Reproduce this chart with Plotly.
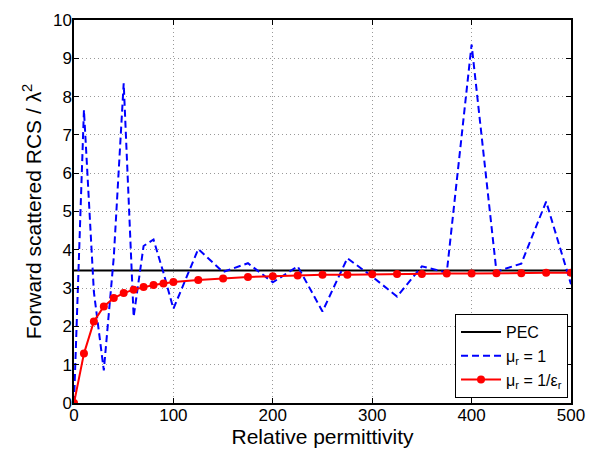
import plotly.graph_objects as go

# relative permittivity samples
eps_r = [0, 10, 20, 30, 40, 50, 60, 70, 80, 90, 100,
         125, 150, 175, 200, 225, 250, 275, 300, 325, 350,
         375, 400, 425, 450, 475, 500]

# forward scattered RCS / lambda^2
pec_value = 3.46
rcs_mu1 = [0.0, 7.65, 2.9, 0.85, 3.8, 8.35, 2.25, 4.1, 4.27, 3.4, 2.46,
           4.02, 3.42, 3.65, 3.15, 3.57, 2.39, 3.78, 3.3, 2.78, 3.57,
           3.4, 9.36, 3.43, 3.64, 5.26, 3.1]
rcs_mu_inv = [0.0, 1.29, 2.13, 2.52, 2.74, 2.87, 2.96, 3.03, 3.08, 3.12, 3.16,
              3.21, 3.25, 3.29, 3.31, 3.33, 3.35, 3.35, 3.36, 3.37, 3.37,
              3.38, 3.38, 3.39, 3.39, 3.40, 3.40]

font = "Liberation Sans, Arial, Helvetica, sans-serif"

fig = go.Figure()
fig.add_trace(go.Scatter(
    x=[eps_r[0], eps_r[-1]], y=[pec_value, pec_value],
    mode="lines", name="PEC",
    line={"color": "black", "width": 2},
))
fig.add_trace(go.Scatter(
    x=eps_r, y=rcs_mu1, mode="lines",
    name="μ<sub>r</sub> = 1",
    line={"color": "#0000ff", "width": 2, "dash": "7px,4px"},
))
fig.add_trace(go.Scatter(
    x=eps_r, y=rcs_mu_inv, mode="lines+markers",
    name="μ<sub>r</sub> = 1/ε<sub>r</sub>",
    line={"color": "#ff0000", "width": 2},
    marker={"color": "#ff0000", "size": 8},
))

axis_style = dict(
    showline=True, linecolor="black", linewidth=1.5, mirror="ticks",
    ticks="inside", ticklen=5, tickcolor="black",
    showgrid=True, gridcolor="#999999", griddash="1px,3px", gridwidth=1,
    zeroline=False, tickfont={"size": 17, "color": "black"},
    ticklabeloverflow="allow",
)

# page is shown with an 8px body offset, so margins are shifted by that
fig.update_layout(
    width=600, height=450,
    margin={"l": 66, "r": 37, "t": 3, "b": 55},
    paper_bgcolor="white", plot_bgcolor="white",
    font={"family": font, "color": "black"},
    legend={
        "x": 0.994, "y": 0.013, "xanchor": "right", "yanchor": "bottom",
        "bordercolor": "black", "borderwidth": 1, "bgcolor": "white",
        "font": {"size": 16}, "itemwidth": 40, "tracegroupgap": 0,
    },
)
fig.update_xaxes(range=[0, 500], dtick=100, ticklabelstandoff=-4,
                 title={"text": "Relative permittivity", "font": {"size": 21}, "standoff": 2},
                 **axis_style)
fig.update_yaxes(range=[0, 10], dtick=1, ticklabelstandoff=-3,
                 title={"text": "Forward scattered RCS / λ<sup>2</sup>", "font": {"size": 21}, "standoff": 6},
                 **axis_style)

fig.write_html("out.html")
